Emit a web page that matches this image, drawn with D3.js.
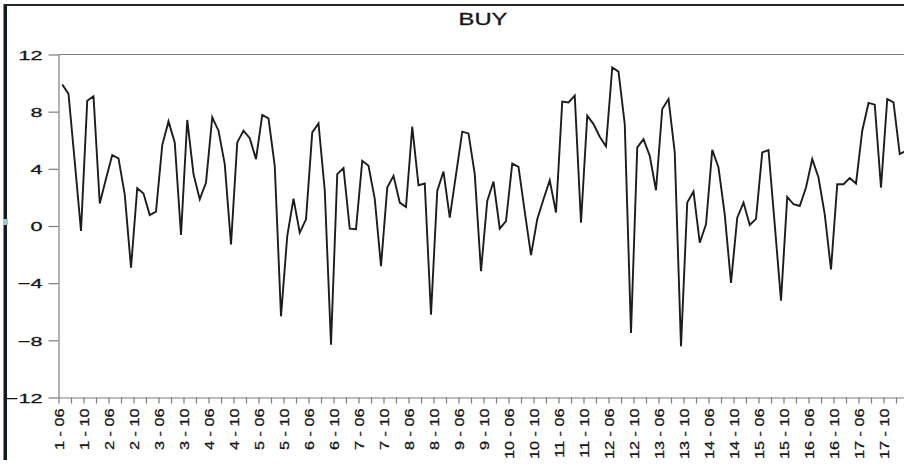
<!DOCTYPE html>
<html>
<head>
<meta charset="utf-8">
<script src="https://cdn.jsdelivr.net/npm/d3@7"></script>
<style>
  html, body { margin: 0; padding: 0; background: #ffffff; overflow: hidden; }
  svg { display: block; }
  text { font-family: "Liberation Sans", Arial, sans-serif; fill: #151515; stroke: #151515; stroke-width: 0.3px; }
</style>
</head>
<body>
<svg id="chart" width="904" height="464"></svg>
<script>
// BUY series, one value per observation (8 observations per period, months 03..10)
const buyValues = [
  9.9, 9.24, 4.5, -0.35, 8.77, 9.08, 1.57, 3.3,
  4.96, 4.73, 2.2, -2.92, 2.64, 2.27, 0.77, 1.0,
  5.66, 7.32, 5.85, -0.63, 7.42, 3.63, 1.87, 3.04,
  7.6, 6.67, 4.33, -1.29, 5.85, 6.67, 6.15, 4.68,
  7.77, 7.53, 4.21, -6.32, -0.7, 1.92, -0.47, 0.47,
  6.55, 7.18, 2.5, -8.3, 3.63, 4.05, -0.19, -0.23,
  4.56, 4.21, 1.9, -2.81, 2.69, 3.51, 1.64, 1.33,
  6.95, 2.85, 2.97, -6.2, 2.46, 3.81, 0.58, 3.6,
  6.6, 6.48, 3.63, -3.16, 1.75, 3.11, -0.19, 0.35,
  4.37, 4.14, 1.0, -2.04, 0.47, 1.87, 3.2, 0.94,
  8.7, 8.65, 9.12, 0.23, 7.72, 7.13, 6.25, 5.57,
  11.1, 10.8, 7.13, -7.49, 5.5, 6.08, 4.91, 2.5,
  8.19, 8.89, 5.15, -8.42, 1.64, 2.41, -1.17, 0.12,
  5.33, 4.09, 0.8, -3.98, 0.58, 1.64, 0.07, 0.5,
  5.15, 5.31, 0.1, -5.22, 2.04, 1.52, 1.4, 2.69,
  4.68, 3.39, 0.82, -3.04, 2.92, 2.92, 3.35, 2.97,
  6.67, 8.61, 8.49, 2.69, 8.89, 8.65, 5.03, 5.26
];

// Period labels shown under every fourth observation
const tickLabels = [
  "1 - 06", "1 - 10", "2 - 06", "2 - 10", "3 - 06", "3 - 10",
  "4 - 06", "4 - 10", "5 - 06", "5 - 10", "6 - 06", "6 - 10",
  "7 - 06", "7 - 10", "8 - 06", "8 - 10", "9 - 06", "9 - 10",
  "10 - 06", "10 - 10", "11 - 06", "11 - 10", "12 - 06", "12 - 10",
  "13 - 06", "13 - 10", "14 - 06", "14 - 10", "15 - 06", "15 - 10",
  "16 - 06", "16 - 10", "17 - 06", "17 - 10"
];

const yTicks = [-12, -8, -4, 0, 4, 8, 12];
const chartTitle = "BUY";

const svg = d3.select("#chart");

const plot = { left: 58.5, top: 54.5, bottom: 397.5, right: 908.5 };
const nSlots = buyValues.length;          // one slot per observation
const pointOffset = 0.6;                  // position of a point inside its slot

const x = d3.scaleLinear().domain([0, nSlots]).range([plot.left, plot.right]);
const y = d3.scaleLinear().domain([-12, 12]).range([plot.bottom, plot.top]);

// window frame: dark top rule and left bar
svg.append("rect")
  .attr("x", 3.5).attr("y", 4).attr("width", 3.5).attr("height", 456)
  .attr("fill", "#0f1a26");
svg.append("line")
  .attr("x1", 4).attr("x2", 904).attr("y1", 5).attr("y2", 5)
  .attr("stroke", "#262626").attr("stroke-width", 2);
svg.append("rect")
  .attr("x", 3).attr("y", 219).attr("width", 5).attr("height", 6)
  .attr("fill", "#9fc6df");

// top border of the plot area
svg.append("line")
  .attr("x1", plot.left).attr("x2", plot.right)
  .attr("y1", plot.top).attr("y2", plot.top)
  .attr("stroke", "#7c7c7c").attr("stroke-width", 1.2);

// x axis: a tick every two observations, a label every four
const xAxis = d3.axisBottom(x)
  .tickValues(d3.range(0, nSlots + 1, 2))
  .tickSize(6)
  .tickSizeOuter(0)
  .tickFormat(u => (u % 4 === 0 && tickLabels[u / 4]) ? tickLabels[u / 4] : "");

const gx = svg.append("g")
  .attr("transform", `translate(0,${plot.bottom})`)
  .call(xAxis);
gx.select(".domain").attr("stroke", "#7c7c7c").attr("stroke-width", 1.2);
gx.selectAll(".tick line").attr("stroke", "#7c7c7c").attr("stroke-width", 1.2);
gx.selectAll(".tick text")
  .attr("x", 0).attr("y", 0)
  .attr("dy", "0.36em")
  .attr("text-anchor", "end")
  .attr("transform", "translate(0,11) rotate(-90) scale(1.2,1)")
  .style("font-size", "13.5px")
  .style("fill", "#151515");

// y axis
const yAxis = d3.axisLeft(y)
  .tickValues(yTicks)
  .tickSize(10)
  .tickSizeOuter(0)
  .tickFormat(d3.format("d"));

const gy = svg.append("g")
  .attr("transform", `translate(${plot.left},0)`)
  .call(yAxis);
gy.select(".domain").attr("stroke", "#7c7c7c").attr("stroke-width", 1.2);
gy.selectAll(".tick line").attr("stroke", "#7c7c7c").attr("stroke-width", 1.2);
gy.selectAll(".tick text")
  .attr("x", 0).attr("y", 0)
  .attr("dy", "0.35em")
  .attr("text-anchor", "end")
  .attr("transform", "translate(-16,0) scale(1.6,1)")
  .style("font-size", "13.5px")
  .style("fill", "#151515");

// series line
const line = d3.line()
  .x((d, i) => x(i + pointOffset))
  .y(d => y(d));

svg.append("path")
  .datum(buyValues)
  .attr("fill", "none")
  .attr("stroke", "#1c1c1c")
  .attr("stroke-width", 1.9)
  .attr("stroke-linejoin", "miter")
  .attr("d", line);

// title
svg.append("text")
  .attr("text-anchor", "middle")
  .attr("transform", "translate(483,25) scale(1.4,1)")
  .style("font-size", "17px")
  .text(chartTitle);
</script>
</body>
</html>
